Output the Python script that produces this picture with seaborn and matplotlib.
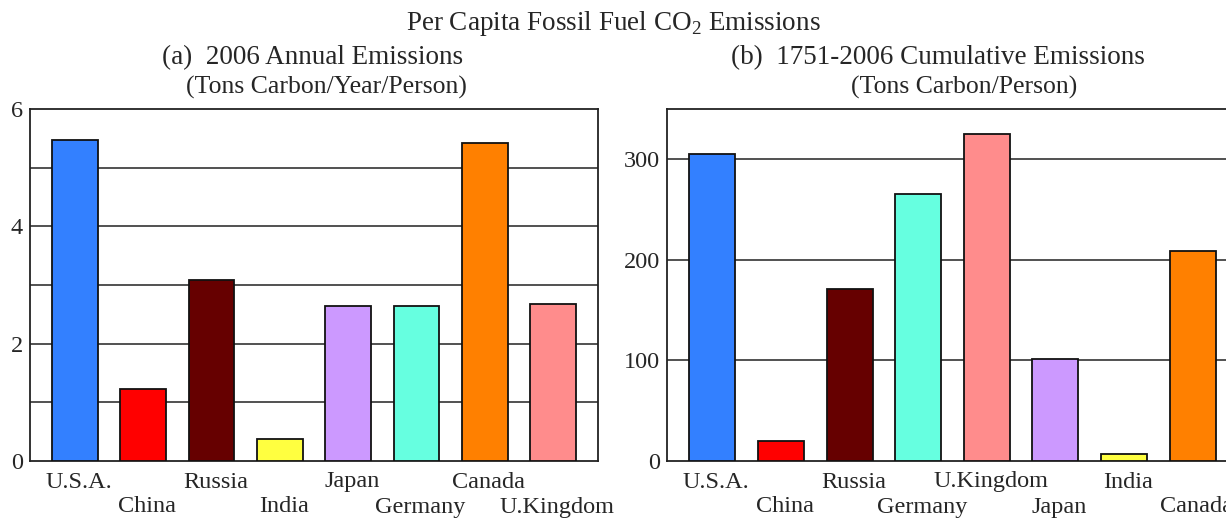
import matplotlib
matplotlib.use("Agg")
import matplotlib.pyplot as plt
import matplotlib.transforms as mtransforms
import seaborn as sns
import pandas as pd
import numpy as np

# Data
countries_a = ["U.S.A.", "China", "Russia", "India", "Japan", "Germany", "Canada", "U.Kingdom"]
values_a = [5.48, 1.22, 3.08, 0.37, 2.65, 2.65, 5.42, 2.67]
countries_b = ["U.S.A.", "China", "Russia", "Germany", "U.Kingdom", "Japan", "India", "Canada"]
values_b = [305, 20, 171, 265, 325, 101, 7, 209]
colors = {
    "U.S.A.": "#3380FF", "China": "#FF0000", "Russia": "#660000", "India": "#FFFF40",
    "Japan": "#CC99FF", "Germany": "#66FFE0", "Canada": "#FF8000", "U.Kingdom": "#FF8C8C",
}
yticks_a = [0, 2, 4, 6]
grid_a = [1, 2, 3, 4, 5]
yticks_b = [0, 100, 200, 300]

sns.set_theme(style="white")
plt.rcParams["font.family"] = ["Liberation Serif", "DejaVu Serif"]
plt.rcParams["mathtext.fontset"] = "custom"
plt.rcParams["mathtext.rm"] = "Liberation Serif"

W, H = 1226, 519
fig = plt.figure(figsize=(W / 100, H / 100), dpi=100)

def px_axes(x0, x1, ytop, ybot):
    return fig.add_axes([x0 / W, 1 - ybot / H, (x1 - x0) / W, (ybot - ytop) / H])

ax1 = px_axes(30, 598, 109, 461)
ax2 = px_axes(667, 1238, 109, 461)

TICK_FS = 17.5

def draw(ax, cats, vals, ylim, yticks, grid):
    df = pd.DataFrame({"c": cats, "v": vals})
    sns.barplot(data=df, x="c", y="v", hue="c", palette=colors, dodge=False,
                width=0.67, edgecolor="#111111", linewidth=1.3, legend=False, ax=ax,
                order=cats, hue_order=cats, saturation=1, zorder=3)
    ax.set_ylim(*ylim)
    ax.set_xlim(-0.66, len(cats) - 1 + 0.66)
    for g in grid:
        ax.axhline(g, color="#333333", lw=1.2, zorder=1)
    ax.set_yticks(yticks)
    ax.set_yticklabels([str(t) for t in yticks], fontsize=TICK_FS)
    ax.set_xticks(range(len(cats)))
    ax.set_xticklabels([""] * len(cats))
    for i, c in enumerate(cats):
        dy = -21 if i % 2 == 0 else -46
        tr = ax.get_xaxis_transform() + mtransforms.ScaledTranslation(4 / 100, dy / 100, fig.dpi_scale_trans)
        ax.text(i, 0, c, transform=tr, ha="center", va="center", fontsize=TICK_FS, clip_on=False)
    ax.tick_params(axis="y", length=0, pad=5)
    ax.tick_params(axis="x", length=0)
    ax.set_xlabel("")
    ax.set_ylabel("")
    for s in ax.spines.values():
        s.set_color("#222222")
        s.set_linewidth(1.3)
        s.set_visible(True)

draw(ax1, countries_a, values_a, (0, 6), yticks_a, grid_a)
draw(ax2, countries_b, values_b, (0, 350), yticks_b, yticks_b[1:])

fig.text(613 / W, 1 - 23 / H, r"Per Capita Fossil Fuel CO$_2$ Emissions", ha="center", va="center", fontsize=19.5)
fig.text(313 / W, 1 - 58 / H, "(a)  2006 Annual Emissions", ha="center", va="center", fontsize=19.5)
fig.text(326 / W, 1 - 87 / H, "(Tons Carbon/Year/Person)", ha="center", va="center", fontsize=18.5)
fig.text(938 / W, 1 - 58 / H, "(b)  1751-2006 Cumulative Emissions", ha="center", va="center", fontsize=19.5)
fig.text(964 / W, 1 - 87 / H, "(Tons Carbon/Person)", ha="center", va="center", fontsize=18.5)

fig.savefig("out.png", dpi=100)
